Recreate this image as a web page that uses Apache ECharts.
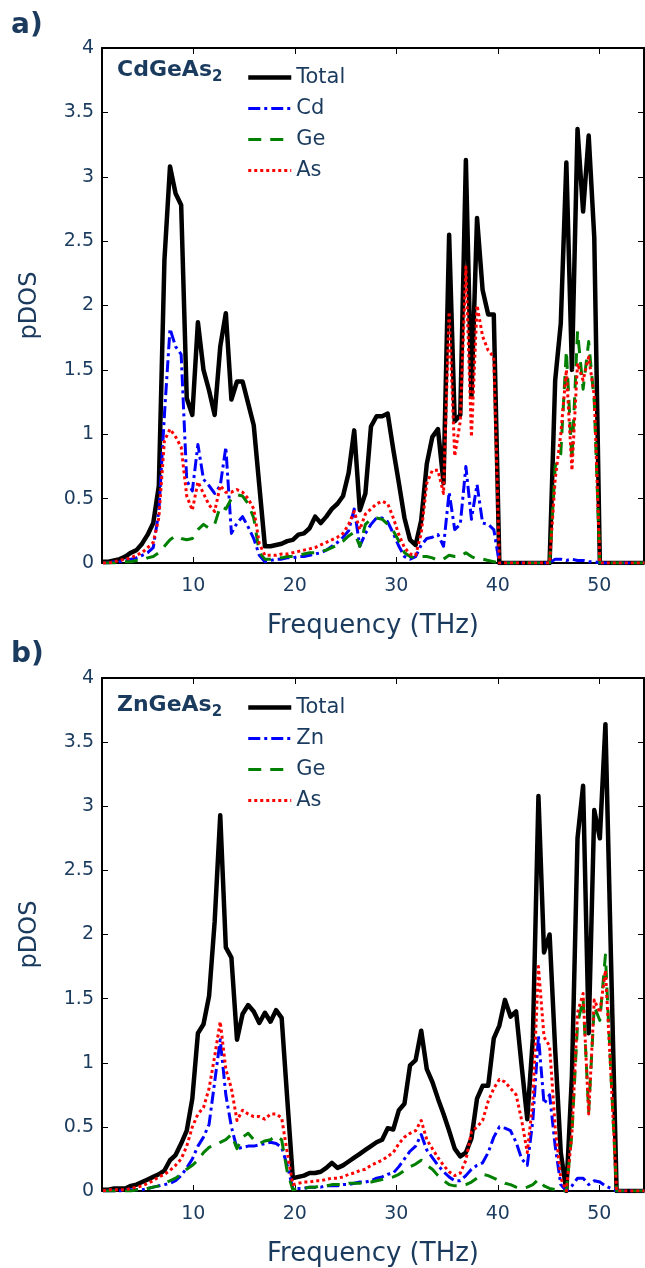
<!DOCTYPE html>
<html>
<head>
<meta charset="utf-8">
<script src="https://cdn.jsdelivr.net/npm/echarts@6/dist/echarts.min.js"></script>
<style>
  html, body { margin: 0; padding: 0; background: #fff; }
  #chart { width: 645px; height: 1268px; }
</style>
</head>
<body>
<div id="chart"></div>
<script>
// frequency grid (THz), shared by both panels
var freq = [
  1.1, 1.65, 2.2, 2.75, 3.3, 3.85, 4.4, 4.95, 5.5, 6.05,
  6.6, 7.15, 7.7, 8.25, 8.8, 9.35, 9.9, 10.45, 11, 11.55,
  12.1, 12.65, 13.2, 13.75, 14.3, 14.85, 15.4, 15.95, 16.5, 17.05,
  17.6, 18.15, 18.7, 19.25, 19.8, 20.35, 20.9, 21.45, 22, 22.55,
  23.1, 23.65, 24.2, 24.75, 25.3, 25.85, 26.4, 26.95, 27.5, 28.05,
  28.6, 29.15, 29.7, 30.25, 30.8, 31.35, 31.9, 32.45, 33, 33.55,
  34.1, 34.65, 35.2, 35.75, 36.3, 36.85, 37.4, 37.95, 38.5, 39.05,
  39.6, 40.15, 40.7, 41.25, 41.8, 42.35, 42.9, 43.45, 44, 44.55,
  45.1, 45.65, 46.2, 46.75, 47.3, 47.85, 48.4, 48.95, 49.5, 50.05,
  50.6, 51.15, 51.7, 52.25, 52.8, 53.35, 53.9, 54.45
];

// a) CdGeAs2
var totalA = [
  0.01, 0.01, 0.02, 0.03, 0.05, 0.08, 0.10, 0.15, 0.22, 0.31,
  0.60, 2.35, 3.08, 2.87, 2.78, 1.28, 1.15, 1.87, 1.50, 1.34,
  1.15, 1.68, 1.94, 1.27, 1.41, 1.41, 1.24, 1.07, 0.60, 0.13,
  0.13, 0.14, 0.15, 0.17, 0.18, 0.22, 0.23, 0.27, 0.36, 0.31,
  0.36, 0.42, 0.46, 0.52, 0.70, 1.03, 0.41, 0.54, 1.06, 1.14,
  1.14, 1.16, 0.88, 0.62, 0.35, 0.18, 0.14, 0.33, 0.77, 0.98,
  1.04, 0.62, 2.55, 1.10, 1.15, 3.13, 1.29, 2.68, 2.12, 1.93,
  1.93, 0, 0, 0, 0, 0, 0, 0, 0, 0,
  0, 1.42, 1.86, 3.11, 1.50, 3.37, 2.73, 3.32, 2.53, 0,
  0, 0, 0, 0, 0, 0, 0, 0
];
var cdA = [
  0, 0, 0.01, 0.01, 0.02, 0.03, 0.04, 0.06, 0.08, 0.12,
  0.40, 1.15, 1.82, 1.68, 1.62, 0.64, 0.56, 0.92, 0.65, 0.60,
  0.54, 0.60, 0.90, 0.23, 0.31, 0.36, 0.28, 0.19, 0.06, 0.01,
  0.02, 0.03, 0.03, 0.04, 0.04, 0.05, 0.05, 0.06, 0.07, 0.08,
  0.10, 0.13, 0.16, 0.20, 0.25, 0.42, 0.13, 0.23, 0.30, 0.35,
  0.35, 0.32, 0.23, 0.13, 0.05, 0.03, 0.05, 0.14, 0.19, 0.20,
  0.22, 0.13, 0.55, 0.26, 0.30, 0.75, 0.34, 0.61, 0.31, 0.30,
  0.26, 0, 0, 0, 0, 0, 0, 0, 0, 0,
  0, 0.03, 0.03, 0.02, 0.03, 0.02, 0.02, 0.01, 0.01, 0,
  0, 0, 0, 0, 0, 0, 0, 0
];
var geA = [
  0, 0, 0, 0.01, 0.01, 0.01, 0.02, 0.02, 0.04, 0.05,
  0.08, 0.13, 0.18, 0.21, 0.19, 0.18, 0.19, 0.26, 0.30, 0.27,
  0.30, 0.44, 0.42, 0.50, 0.53, 0.52, 0.46, 0.35, 0.08, 0.03,
  0.03, 0.04, 0.04, 0.05, 0.05, 0.06, 0.07, 0.08, 0.08, 0.09,
  0.10, 0.12, 0.14, 0.17, 0.21, 0.24, 0.13, 0.30, 0.34, 0.35,
  0.34, 0.30, 0.25, 0.17, 0.08, 0.05, 0.04, 0.05, 0.05, 0.04,
  0.02, 0.03, 0.06, 0.05, 0.05, 0.08, 0.05, 0.03, 0.03, 0.02,
  0.01, 0, 0, 0, 0, 0, 0, 0, 0, 0,
  0, 0.75, 0.85, 1.65, 0.80, 1.80, 1.35, 1.72, 1.25, 0,
  0, 0, 0, 0, 0, 0, 0, 0
];
var asA = [
  0, 0, 0.01, 0.02, 0.03, 0.04, 0.06, 0.08, 0.12, 0.16,
  0.35, 0.95, 1.04, 0.98, 0.90, 0.52, 0.41, 0.63, 0.54, 0.45,
  0.40, 0.60, 0.55, 0.55, 0.57, 0.55, 0.50, 0.42, 0.15, 0.06,
  0.06, 0.06, 0.07, 0.07, 0.08, 0.09, 0.10, 0.11, 0.12, 0.14,
  0.16, 0.18, 0.20, 0.23, 0.30, 0.40, 0.26, 0.38, 0.42, 0.46,
  0.48, 0.46, 0.35, 0.22, 0.12, 0.07, 0.06, 0.23, 0.62, 0.72,
  0.72, 0.54, 1.95, 0.83, 1.10, 2.30, 0.98, 2.00, 1.76, 1.65,
  1.60, 0, 0, 0, 0, 0, 0, 0, 0, 0,
  0, 0.65, 1.00, 1.50, 0.72, 1.55, 1.42, 1.60, 1.30, 0,
  0, 0, 0, 0, 0, 0, 0, 0
];

// b) ZnGeAs2
var totalB = [
  0.01, 0.01, 0.02, 0.02, 0.02, 0.04, 0.05, 0.07, 0.09, 0.11,
  0.13, 0.16, 0.24, 0.28, 0.37, 0.47, 0.72, 1.23, 1.30, 1.52,
  2.10, 2.93, 1.90, 1.82, 1.18, 1.38, 1.45, 1.40, 1.31, 1.39,
  1.32, 1.41, 1.35, 0.72, 0.10, 0.11, 0.12, 0.14, 0.14, 0.15,
  0.18, 0.22, 0.18, 0.20, 0.23, 0.26, 0.29, 0.32, 0.35, 0.38,
  0.40, 0.49, 0.48, 0.63, 0.68, 0.98, 1.02, 1.25, 0.95, 0.85,
  0.72, 0.60, 0.47, 0.33, 0.27, 0.30, 0.41, 0.72, 0.82, 0.82,
  1.19, 1.29, 1.49, 1.36, 1.40, 0.97, 0.56, 1.19, 3.08, 1.86,
  2.00, 1.10, 0.30, 0, 0.90, 2.75, 3.16, 1.23, 2.97, 2.75,
  3.64, 1.80, 0, 0, 0, 0, 0, 0
];
var znB = [
  0, 0, 0, 0, 0.01, 0.01, 0.01, 0.01, 0.02, 0.03,
  0.04, 0.05, 0.06, 0.08, 0.12, 0.18, 0.25, 0.35, 0.42, 0.52,
  0.85, 1.18, 0.75, 0.50, 0.33, 0.34, 0.35, 0.35, 0.36, 0.37,
  0.38, 0.37, 0.34, 0.20, 0.02, 0.02, 0.02, 0.03, 0.03, 0.03,
  0.04, 0.04, 0.04, 0.05, 0.05, 0.06, 0.07, 0.07, 0.08, 0.10,
  0.11, 0.13, 0.14, 0.19, 0.25, 0.31, 0.35, 0.44, 0.32, 0.26,
  0.20, 0.15, 0.11, 0.08, 0.08, 0.12, 0.17, 0.20, 0.22, 0.30,
  0.42, 0.50, 0.49, 0.47, 0.38, 0.25, 0.20, 0.55, 1.21, 0.68,
  0.75, 0.35, 0.05, 0, 0.04, 0.10, 0.10, 0.05, 0.08, 0.07,
  0.04, 0.02, 0, 0, 0, 0, 0, 0
];
var geB = [
  0, 0, 0, 0, 0, 0, 0.01, 0.01, 0.02, 0.03,
  0.04, 0.06, 0.08, 0.10, 0.13, 0.17, 0.20, 0.24, 0.30, 0.34,
  0.36, 0.38, 0.40, 0.44, 0.33, 0.42, 0.45, 0.40, 0.37, 0.39,
  0.40, 0.43, 0.40, 0.15, 0.01, 0.02, 0.02, 0.03, 0.03, 0.04,
  0.04, 0.05, 0.05, 0.05, 0.06, 0.06, 0.06, 0.07, 0.07, 0.08,
  0.09, 0.10, 0.11, 0.13, 0.16, 0.19, 0.21, 0.24, 0.20, 0.17,
  0.12, 0.08, 0.05, 0.04, 0.04, 0.05, 0.07, 0.10, 0.13, 0.12,
  0.10, 0.08, 0.06, 0.05, 0.03, 0.02, 0.03, 0.05, 0.09, 0.04,
  0.02, 0.01, 0, 0, 0.45, 1.30, 1.50, 0.62, 1.44, 1.33,
  1.84, 0.90, 0, 0, 0, 0, 0, 0
];
var asB = [
  0, 0.01, 0.01, 0.01, 0.01, 0.02, 0.03, 0.04, 0.06, 0.08,
  0.11, 0.13, 0.16, 0.20, 0.25, 0.35, 0.50, 0.60, 0.65, 0.80,
  1.05, 1.32, 0.95, 0.80, 0.55, 0.63, 0.60, 0.58, 0.58, 0.56,
  0.60, 0.60, 0.57, 0.30, 0.05, 0.06, 0.07, 0.07, 0.08, 0.08,
  0.09, 0.10, 0.10, 0.11, 0.13, 0.14, 0.16, 0.17, 0.20, 0.22,
  0.24, 0.27, 0.30, 0.37, 0.42, 0.45, 0.47, 0.55, 0.40, 0.33,
  0.26, 0.20, 0.15, 0.12, 0.14, 0.24, 0.46, 0.50, 0.55, 0.70,
  0.80, 0.87, 0.85, 0.80, 0.75, 0.55, 0.30, 0.70, 1.75, 1.20,
  1.13, 0.50, 0.10, 0, 0.45, 1.39, 1.54, 0.60, 1.49, 1.39,
  1.72, 0.90, 0, 0, 0, 0, 0, 0
];

var xTicks = [10, 20, 30, 40, 50];

var NAVY = '#1b3b5e';
var FONT = 'DejaVu Sans';

var styles = {
  Total: { color: '#000000', width: 4.5, type: 'solid' },
  Cd: { color: '#0000ff', width: 3, type: [12, 4, 3, 4] },
  Zn: { color: '#0000ff', width: 3, type: [12, 4, 3, 4] },
  Ge: { color: '#008000', width: 3, type: [13, 9] },
  As: { color: '#ff0000', width: 3, type: [3, 3] }
};

function pairs(vals) {
  return freq.map(function (f, k) { return [f, vals[k]]; });
}

function line(name, vals, g) {
  var s = styles[name];
  return {
    name: name,
    type: 'line',
    xAxisIndex: g * 2,
    yAxisIndex: g * 2,
    symbol: 'none',
    animation: false,
    color: s.color,
    lineStyle: { color: s.color, width: s.width, type: s.type, join: 'round' },
    data: pairs(vals)
  };
}

var grids = [
  { left: 102, top: 48, width: 542, height: 515 },
  { left: 102, top: 678, width: 542, height: 513 }
];

var xAxes = [], yAxes = [];
grids.forEach(function (gr, g) {
  // bottom / left: the real axes
  xAxes.push({
    type: 'value', gridIndex: g, min: 1, max: 54.4, position: 'bottom',
    name: 'Frequency (THz)', nameLocation: 'middle', nameGap: 50,
    nameTextStyle: { fontSize: 26, color: NAVY, fontFamily: FONT },
    axisLine: { onZero: false, lineStyle: { color: '#000', width: 2 } },
    axisTick: { inside: true, length: 6, customValues: xTicks, lineStyle: { color: '#000', width: 1 } },
    axisLabel: { customValues: xTicks, fontSize: 19, color: NAVY, fontFamily: FONT, margin: 14 },
    splitLine: { show: false }
  });
  // top: mirrored ticks only
  xAxes.push({
    type: 'value', gridIndex: g, min: 1, max: 54.4, position: 'top',
    axisLine: { show: true, onZero: false, lineStyle: { color: '#000', width: 2 } },
    axisTick: { inside: true, length: 6, customValues: xTicks, lineStyle: { color: '#000', width: 1 } },
    axisLabel: { show: false },
    splitLine: { show: false }
  });
  yAxes.push({
    type: 'value', gridIndex: g, min: 0, max: 4, interval: 0.5, position: 'left',
    name: 'pDOS', nameLocation: 'middle', nameGap: 60,
    nameTextStyle: { fontSize: 24, color: NAVY, fontFamily: FONT },
    axisLine: { show: true, onZero: false, lineStyle: { color: '#000', width: 2 } },
    axisTick: { show: true, inside: true, length: 6, lineStyle: { color: '#000', width: 1 } },
    axisLabel: { fontSize: 19, color: NAVY, fontFamily: FONT, margin: 8 },
    splitLine: { show: false }
  });
  yAxes.push({
    type: 'value', gridIndex: g, min: 0, max: 4, interval: 0.5, position: 'right',
    axisLine: { show: true, onZero: false, lineStyle: { color: '#000', width: 2 } },
    axisTick: { show: true, inside: true, length: 6, lineStyle: { color: '#000', width: 1 } },
    axisLabel: { show: false },
    splitLine: { show: false }
  });
});

function legendAt(top, names) {
  return {
    data: names.map(function (n) {
      var s = styles[n];
      return { name: n, lineStyle: { color: s.color, width: s.width, type: s.type } };
    }),
    orient: 'vertical', left: 246, top: top,
    itemWidth: 43, itemHeight: 20, itemGap: 10, padding: 0,
    selectedMode: false,
    itemStyle: { opacity: 0 },
    textStyle: { fontSize: 21, color: NAVY, fontFamily: FONT, lineHeight: 20 }
  };
}

function formula(text, top) {
  return {
    text: '{m|' + text + '}{s|2}', left: 117, top: top, padding: 0,
    textStyle: {
      rich: {
        m: { fontSize: 22, fontWeight: 'bold', color: NAVY, fontFamily: FONT, lineHeight: 30, verticalAlign: 'middle' },
        s: { fontSize: 15, fontWeight: 'bold', color: NAVY, fontFamily: FONT, lineHeight: 15, verticalAlign: 'bottom' }
      }
    }
  };
}

var chart = echarts.init(document.getElementById('chart'));
chart.setOption({
  backgroundColor: '#fff',
  animation: false,
  title: [
    { text: 'a)', left: 11, top: 12, padding: 0, textStyle: { fontSize: 28, fontWeight: 'bold', color: NAVY, fontFamily: FONT } },
    { text: 'b)', left: 11, top: 641, padding: 0, textStyle: { fontSize: 28, fontWeight: 'bold', color: NAVY, fontFamily: FONT } },
    formula('CdGeAs', 55),
    formula('ZnGeAs', 690)
  ],
  legend: [
    legendAt(67, ['Total', 'Cd', 'Ge', 'As']),
    legendAt(697, ['Total', 'Zn', 'Ge', 'As'])
  ],
  grid: grids,
  xAxis: xAxes,
  yAxis: yAxes,
  series: [
    line('Total', totalA, 0), line('Cd', cdA, 0), line('Ge', geA, 0), line('As', asA, 0),
    line('Total', totalB, 1), line('Zn', znB, 1), line('Ge', geB, 1), line('As', asB, 1)
  ]
});
</script>
</body>
</html>
